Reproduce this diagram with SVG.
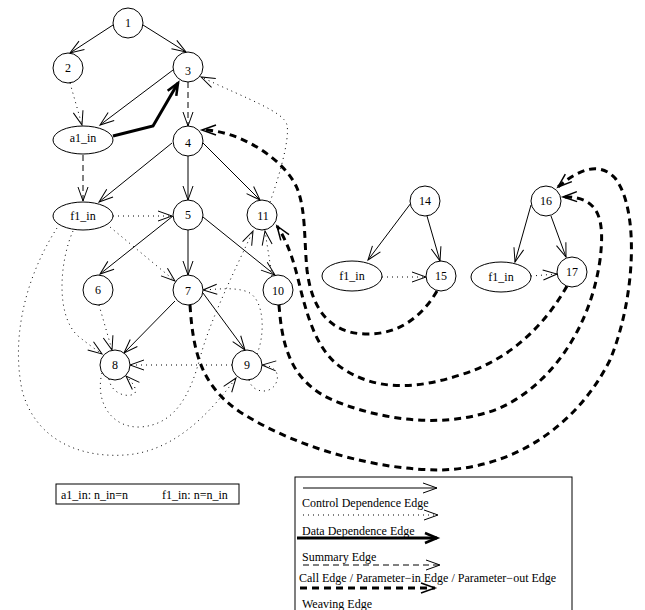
<svg xmlns="http://www.w3.org/2000/svg" width="645" height="610" viewBox="0 0 645 610">
<style>
text{font-family:"Liberation Serif","Times New Roman",serif;font-size:12px;fill:#000}
.nd circle,.nd ellipse{fill:#fff;stroke:#000;stroke-width:1}
.nd text{text-anchor:middle}
.e{fill:none;stroke:#000}
.ctrl{stroke-width:1;marker-end:url(#a)}
.data{stroke-width:1;stroke-dasharray:1 4;marker-end:url(#a)}
.summ{stroke-width:3;marker-end:url(#ab)}
.call{stroke-width:1;stroke-dasharray:6 4;marker-end:url(#a)}
.weave{stroke-width:3;stroke-dasharray:7 5;marker-end:url(#aw)}
</style>
<defs>
<marker id="a" markerUnits="userSpaceOnUse" viewBox="-15 -8 17 16" markerWidth="17" markerHeight="16" refX="0" refY="0" orient="auto" overflow="visible"><path d="M-14,-5 L0,0 L-14,5" fill="none" stroke="#000" stroke-width="1"/></marker>
<marker id="ab" markerUnits="userSpaceOnUse" viewBox="-15 -8 17 16" markerWidth="17" markerHeight="16" refX="0" refY="0" orient="auto" overflow="visible"><path d="M-12,-5 L0,0 L-12,5" fill="none" stroke="#000" stroke-width="2.5"/></marker>
<marker id="aw" markerUnits="userSpaceOnUse" viewBox="-15 -8 17 16" markerWidth="17" markerHeight="16" refX="0" refY="0" orient="auto" overflow="visible"><path d="M-14,-5 L0,0 L-14,5" fill="none" stroke="#000" stroke-width="1.5"/></marker>
</defs>
<g id="edges">
<path class="e ctrl" d="M113,25 L70,53"/>
<path class="e ctrl" d="M143,25 L186,52"/>
<path class="e ctrl" d="M173,70 L100,125"/>
<path class="e ctrl" d="M172,143 L99,202"/>
<path class="e ctrl" d="M188,156 L188,200"/>
<path class="e ctrl" d="M203,143 L260,200"/>
<path class="e ctrl" d="M173,216 L100,274"/>
<path class="e ctrl" d="M188,230 L188,275"/>
<path class="e ctrl" d="M203,217 L275,275"/>
<path class="e ctrl" d="M175,301 L124,353"/>
<path class="e ctrl" d="M203,293 L245,350"/>
<path class="e ctrl" d="M411,203 L368,260"/>
<path class="e ctrl" d="M427,216 L440,261"/>
<path class="e ctrl" d="M531,205 L515,262"/>
<path class="e ctrl" d="M551,216 L566,257"/>
<path class="e data" d="M70,83 L82,125"/>
<path class="e data" d="M270,202 C278,180 290,140 287,125 C284,112 250,100 201,77"/>
<path class="e data" d="M113,216 L172,216"/>
<path class="e data" d="M110,227 L175,281"/>
<path class="e data" d="M73,231 C60,260 55,315 78,336 C88,344 95,349 102,354"/>
<path class="e data" d="M57,228 C30,270 10,330 22,390 C35,440 80,458 125,455 C170,452 205,420 236,378"/>
<path class="e data" d="M99,305 L112,350"/>
<path class="e data" d="M232,365 L130,365"/>
<path class="e data" d="M257,354 C265,335 265,300 248,292 C235,287 220,289 203,290"/>
<path class="e data" d="M102,373 C95,400 110,428 140,427 C175,425 190,395 200,358 C210,320 235,270 253,231"/>
<path class="e data" d="M272,276 L265,231"/>
<path class="e data" d="M109,379 C111,393 126,398 134,394 C138,391 134,384 126,376"/>
<path class="e data" d="M249,380 C252,392 268,395 275,385 C280,377 278,366 262,365"/>
<path class="e data" d="M382,277 L426,277"/>
<path class="e data" d="M531,276 L557,274"/>
<path class="e call" d="M188,82 L188,126"/>
<path class="e call" d="M83,155 L83,201"/>
<path class="e summ" d="M113,136 L153,126 L178,83"/>
<path class="e weave" d="M437,291 C420,320 395,335 365,334 C330,333 312,310 307,270 C304,240 306,210 297,188 C285,160 240,130 202,130"/>
<path class="e weave" d="M567,286 C545,325 510,360 460,375 C420,388 380,392 345,370 C320,355 310,325 302,295 C296,270 290,245 277,226"/>
<path class="e weave" d="M279,305 C282,345 290,385 340,403 C390,422 450,428 500,408 C550,385 590,330 600,260 C605,220 600,196 563,197"/>
<path class="e weave" d="M190,305 C193,350 200,385 240,412 C300,450 380,470 440,470 C520,468 580,420 610,360 C635,300 640,210 615,178 C600,162 580,168 558,187"/>
</g>
<g id="n1" class="nd"><circle cx="128" cy="23" r="15"/><text x="128" y="27">1</text></g>
<g id="n2" class="nd"><circle cx="68" cy="68" r="15"/><text x="68" y="72">2</text></g>
<g id="n3" class="nd"><circle cx="188" cy="67" r="15"/><text x="188" y="75">3</text></g>
<g id="a1_in" class="nd"><ellipse cx="83" cy="140" rx="30" ry="14"/><text x="83" y="142">a1_in</text></g>
<g id="n4" class="nd"><circle cx="188" cy="141" r="15"/><text x="188" y="147">4</text></g>
<g id="f1_in" class="nd"><ellipse cx="83" cy="216" rx="30" ry="14"/><text x="83" y="220">f1_in</text></g>
<g id="n5" class="nd"><circle cx="188" cy="215" r="15"/><text x="188" y="219">5</text></g>
<g id="n11" class="nd"><circle cx="262" cy="215" r="15"/><text x="263" y="220">11</text></g>
<g id="n6" class="nd"><circle cx="98" cy="290" r="15"/><text x="98" y="294">6</text></g>
<g id="n7" class="nd"><circle cx="188" cy="290" r="15"/><text x="188" y="295">7</text></g>
<g id="n10" class="nd"><circle cx="278" cy="290" r="15"/><text x="278" y="295">10</text></g>
<g id="n8" class="nd"><circle cx="115" cy="365" r="15"/><text x="115" y="369">8</text></g>
<g id="n9" class="nd"><circle cx="247" cy="365" r="15"/><text x="247" y="369">9</text></g>
<g id="n14" class="nd"><circle cx="425" cy="201" r="15"/><text x="425" y="205">14</text></g>
<g id="f1_in_b" class="nd"><ellipse cx="352" cy="276" rx="30" ry="15"/><text x="352" y="280">f1_in</text></g>
<g id="n15" class="nd"><circle cx="441" cy="276" r="15"/><text x="441" y="280">15</text></g>
<g id="n16" class="nd"><circle cx="546" cy="201" r="15"/><text x="546" y="205">16</text></g>
<g id="f1_in_c" class="nd"><ellipse cx="501" cy="277" rx="30" ry="15"/><text x="501" y="281">f1_in</text></g>
<g id="n17" class="nd"><circle cx="572" cy="272" r="15"/><text x="572" y="276">17</text></g>
<g id="labels">
<rect x="56" y="484" width="183" height="20" fill="none" stroke="#000" stroke-width="1"/>
<text x="61" y="499">a1_in: n_in=n</text>
<text x="162" y="499">f1_in: n=n_in</text>
</g>
<g id="legend">
<rect x="295" y="477" width="277" height="140" fill="none" stroke="#000" stroke-width="1"/>
<path class="e ctrl" d="M303,488 L437,488"/>
<text x="302" y="507">Control Dependence Edge</text>
<path class="e data" d="M303,515 L438,515"/>
<text x="302" y="535">Data Dependence Edge</text>
<path class="e summ" d="M297,538 L437,538"/>
<text x="302" y="561">Summary Edge</text>
<path class="e call" d="M303,565 L440,565"/>
<text x="299" y="582">Call Edge / Parameter−in Edge / Parameter−out Edge</text>
<path class="e weave" d="M300,588 L435,588"/>
<text x="302" y="608">Weaving Edge</text>
</g>
</svg>
